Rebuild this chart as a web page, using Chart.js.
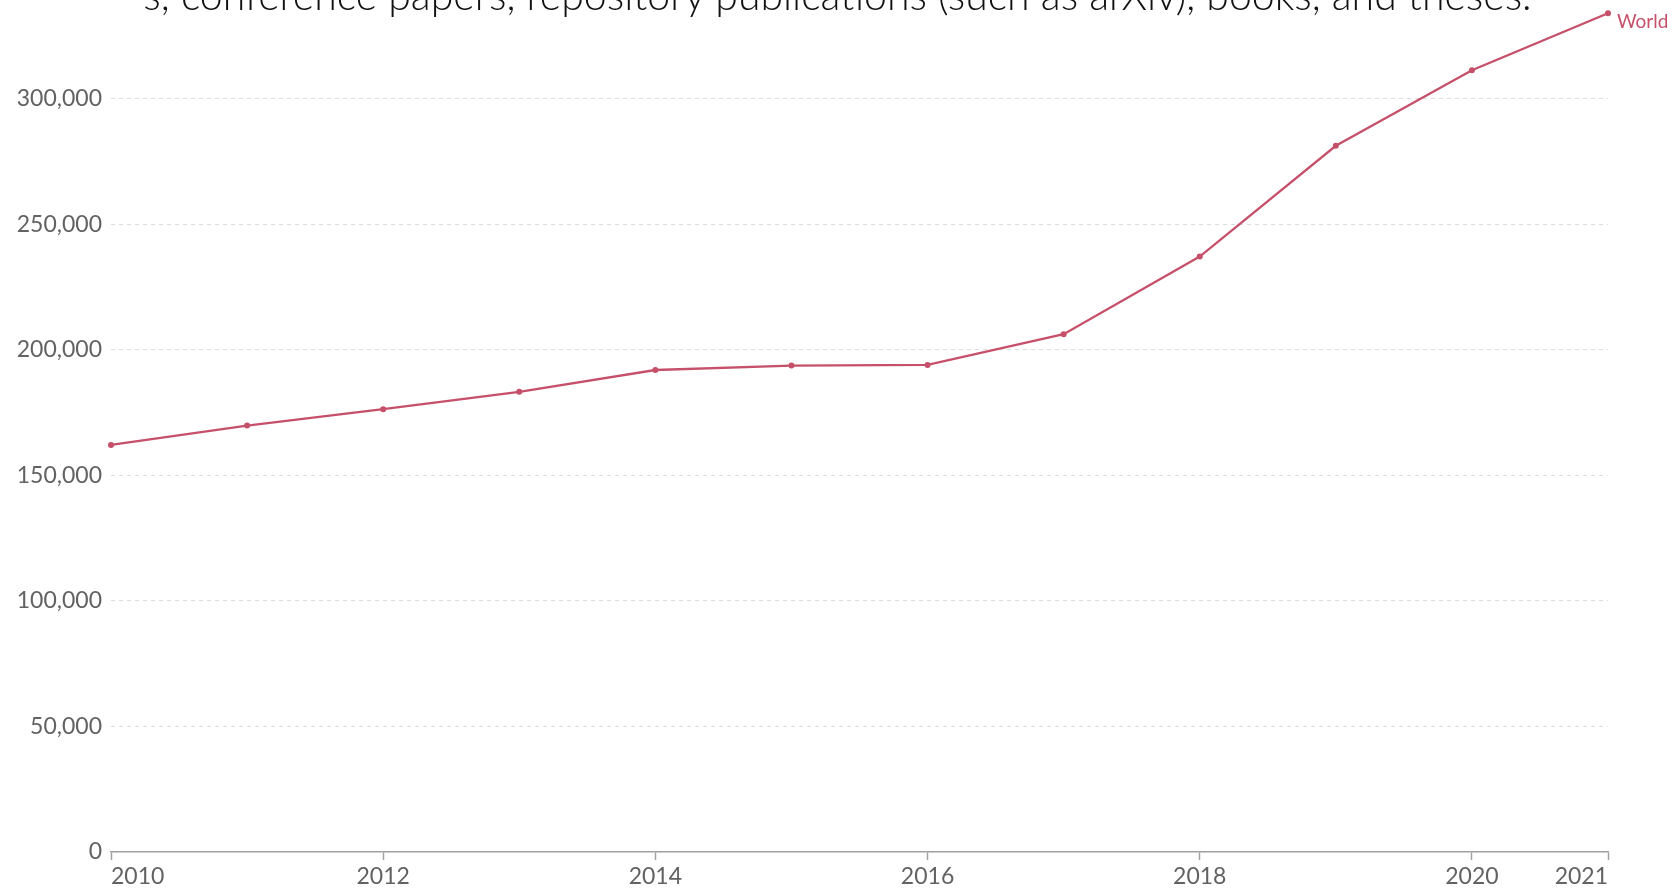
<!DOCTYPE html>
<html>
<head>
<meta charset="utf-8">
<script src="https://cdn.jsdelivr.net/npm/chart.js@4/dist/chart.umd.min.js"></script>
<style>
    html, body { margin: 0; padding: 0; background: #fff; overflow: hidden; }
    #wrap { position: relative; width: 1675px; height: 888px; }
    #caption {
        position: absolute; left: 0; top: -26px; width: 1675px;
        text-align: center; font-family: Lato, sans-serif; font-weight: 300;
        font-size: 41px; line-height: 41px; color: #111; white-space: nowrap;
    }
    canvas { position: absolute; left: 0; top: 0; }
</style>
</head>
<body>
<div id="wrap">
    <canvas id="chart-line" width="1675" height="888"></canvas>
    <div id="caption">s, conference papers, repository publications (such as arXiv), books, and theses.</div>
</div>
<script>
const years = [2010, 2011, 2012, 2013, 2014, 2015, 2016, 2017, 2018, 2019, 2020, 2021];
const publications = [162150, 169850, 176400, 183300, 192000, 193750, 194000, 206250, 237200, 281300, 311400, 334100];
const xTickYears = [2010, 2012, 2014, 2016, 2018, 2020, 2021];
const yTicks = [0, 50000, 100000, 150000, 200000, 250000, 300000];
const seriesName = "World";

const lineColor = "#c6506a";
const textGrey = "#626262";

// etiquetas del eje x y nombre de la serie
const labelsPlugin = {
    id: "labelsPlugin",
    afterDraw(chart) {
        const ctx = chart.ctx;
        const x = chart.scales.x;
        ctx.save();
        ctx.font = "23px Lato, sans-serif";
        ctx.fillStyle = textGrey;
        ctx.textBaseline = "middle";
        xTickYears.forEach((yr, i) => {
            const px = x.getPixelForValue(yr);
            if (i === 0) ctx.textAlign = "left";
            else if (i === xTickYears.length - 1) ctx.textAlign = "right";
            else ctx.textAlign = "center";
            ctx.fillText(String(yr), px, x.bottom - 11);
        });
        const pts = chart.getDatasetMeta(0).data;
        const last = pts[pts.length - 1];
        ctx.font = "19px Lato, sans-serif";
        ctx.fillStyle = lineColor;
        ctx.textAlign = "left";
        ctx.fillText(seriesName, last.x + 9, last.y + 9);
        ctx.restore();
    },
};

const ctx = document.getElementById("chart-line").getContext("2d");
new Chart(ctx, {
    type: "line",
    data: {
        datasets: [
            {
                label: seriesName,
                data: years.map((y, i) => ({ x: y, y: publications[i] })),
                borderColor: lineColor,
                backgroundColor: lineColor,
                borderWidth: 2.3,
                tension: 0,
                pointRadius: 3,
                pointBackgroundColor: lineColor,
                pointBorderWidth: 0,
                clip: false,
            },
        ],
    },
    options: {
        responsive: false,
        animation: false,
        layout: { padding: { top: 11, right: 67, left: 0, bottom: 0 } },
        plugins: {
            legend: { display: false },
            tooltip: { enabled: false },
        },
        scales: {
            x: {
                type: "linear",
                min: 2010,
                max: 2021,
                afterBuildTicks: (scale) => {
                    scale.ticks = xTickYears.map((v) => ({ value: v }));
                },
                afterFit: (scale) => {
                    scale.height = 36;
                    scale.paddingLeft = 0;
                    scale.paddingRight = 0;
                },
                ticks: { display: false },
                grid: {
                    drawOnChartArea: false,
                    drawTicks: true,
                    tickLength: 8,
                    tickColor: "#a0a0a0",
                    tickWidth: 1.5,
                },
                border: { display: true, color: "#a0a0a0", width: 1.5 },
            },
            y: {
                min: 0,
                max: 335000,
                afterBuildTicks: (scale) => {
                    scale.ticks = yTicks.map((v) => ({ value: v }));
                },
                afterFit: (scale) => {
                    scale.width = 111;
                    scale.paddingTop = 0;
                    scale.paddingBottom = 0;
                },
                ticks: {
                    padding: 9,
                    color: textGrey,
                    font: { family: "Lato", size: 23 },
                    callback: (v) => v.toLocaleString("en-US"),
                },
                grid: {
                    drawTicks: false,
                    color: (c) => (c.tick && c.tick.value === 0 ? "rgba(0,0,0,0)" : "#dddddd"),
                    lineWidth: 1,
                },
                border: { display: false, dash: [4, 4] },
            },
        },
    },
    plugins: [labelsPlugin],
});
</script>
</body>
</html>
